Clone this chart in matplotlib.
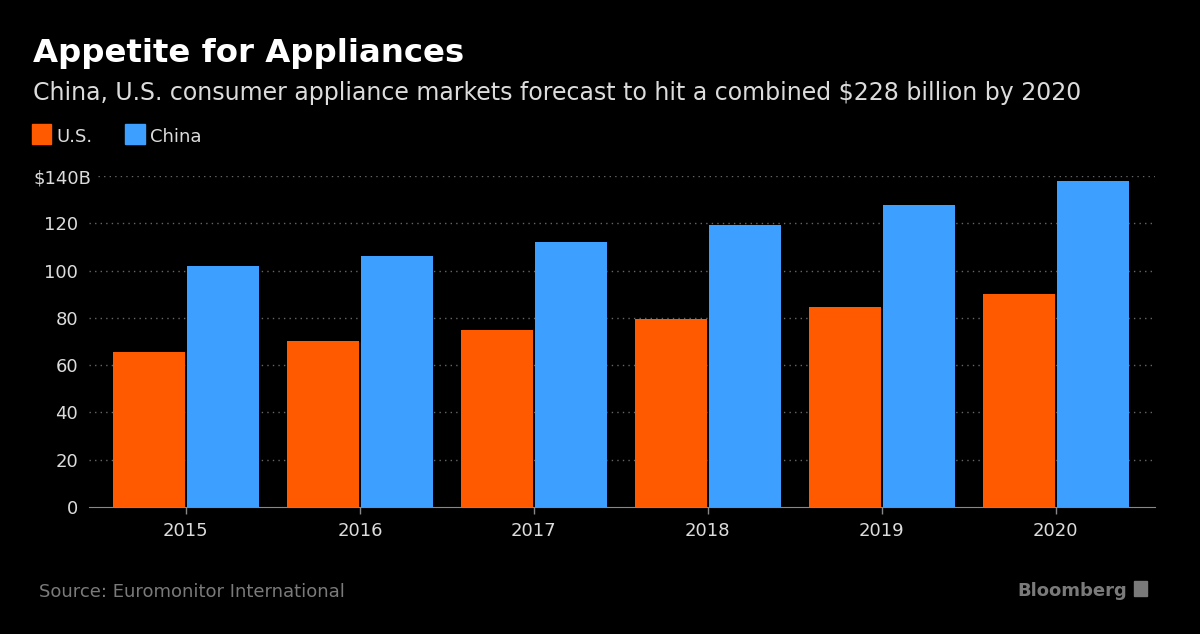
import matplotlib.pyplot as plt
import matplotlib.transforms as mtransforms
import numpy as np

#data (billions of dollars)
years = ['2015', '2016', '2017', '2018', '2019', '2020']
us_values = [65.6, 70.2, 74.9, 79.5, 84.6, 90.1]
china_values = [101.9, 106.2, 112.1, 119.3, 127.7, 137.9]
ytick_values = [0, 20, 40, 60, 80, 100, 120, 140]
ytick_labels = ['0', '20', '40', '60', '80', '100', '120', '$140B']

#colours
bg = '#000000'
us_color = '#ff5a00'
china_color = '#3d9fff'
text_color = '#dcdcdc'

fig = plt.figure(figsize=[12, 6.34], dpi=100, facecolor=bg)
ax = fig.add_axes([89/1200, 1 - 507/634, (1155-89)/1200, (507-176)/634])
ax.set_facecolor(bg)

x = np.arange(len(years))
width = 0.414
ax.bar(x - 0.213, us_values, width, color=us_color, zorder=3)
ax.bar(x + 0.213, china_values, width, color=china_color, zorder=3)

ax.set_xlim(-0.557, 5.57)
ax.set_ylim(0, 140)
ax.set_yticks(ytick_values)
ax.set_yticklabels(ytick_labels)
ax.set_xticks(x)
ax.set_xticklabels(years)
ax.tick_params(axis='y', length=0, pad=8, labelsize=13, labelcolor=text_color)
ax.tick_params(axis='x', length=5, width=1, color='#888888', pad=6,
               labelsize=13, labelcolor=text_color)
#top label sits further right in the original
top_label = ax.get_yticklabels()[-1]
top_label.set_transform(top_label.get_transform() +
                        mtransforms.ScaledTranslation(13/100, 0, fig.dpi_scale_trans))
#dotted gridlines, the top one starts after the $140B label
for v in ytick_values[1:]:
  start = 9/1066 if v == ytick_values[-1] else 0
  ax.axhline(v, xmin=start, xmax=1, linestyle=(0, (1, 3)), color='#666666',
             lw=1, zorder=0)
for side in ['top', 'right', 'left']:
  ax.spines[side].set_visible(False)
ax.spines['bottom'].set_color('#888888')

#titles
fig.text(33/1200, 1 - 62/634, 'Appetite for Appliances', color='white',
         fontsize=23.3, fontweight='bold', va='baseline')
fig.text(33/1200, 1 - 100/634, 'China, U.S. consumer appliance markets forecast to hit a combined $228 billion by 2020',
         color=text_color, fontsize=17, va='baseline')

#legend
fig.patches.append(plt.Rectangle((32/1200, 1 - 144/634), 19/1200, 20/634,
                                 transform=fig.transFigure, color=us_color))
fig.text(56/1200, 1 - 142/634, 'U.S.', color=text_color, fontsize=13, va='baseline')
fig.patches.append(plt.Rectangle((125/1200, 1 - 144/634), 20/1200, 20/634,
                                 transform=fig.transFigure, color=china_color))
fig.text(150/1200, 1 - 142/634, 'China', color=text_color, fontsize=13, va='baseline')

#footer
fig.text(39/1200, 1 - 597/634, 'Source: Euromonitor International', color='#7a7a7a',
         fontsize=13, va='baseline')
fig.text(1127/1200, 1 - 596/634, 'Bloomberg', color='#7a7a7a', fontsize=13,
         fontweight='bold', va='baseline', ha='right')
fig.patches.append(plt.Rectangle((1134/1200, 1 - 596/634), 13/1200, 15/634,
                                 transform=fig.transFigure, color='#7a7a7a'))

plt.savefig('out.png', dpi=100, facecolor=bg)
